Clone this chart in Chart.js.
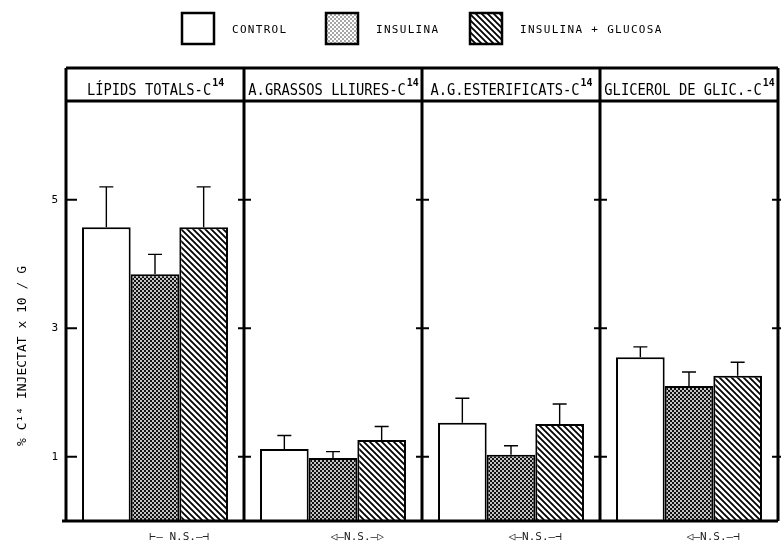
<!DOCTYPE html>
<html>
<head>
<meta charset="utf-8">
<script src="https://cdn.jsdelivr.net/npm/chart.js@4"></script>
<style>
  html, body { margin: 0; padding: 0; background: #fff; }
  #wrap { width: 781px; height: 544px; }
</style>
</head>
<body>
<div id="wrap"><canvas id="lipidsChart" width="781" height="544"></canvas></div>
<script>
// panels (categories) and their header labels
const categories = ['LÍPIDS TOTALS-C', 'A.GRASSOS LLIURES-C', 'A.G.ESTERIFICATS-C', 'GLICEROL DE GLIC.-C'];
const headerSup = '14';
const seriesNames = ['CONTROL', 'INSULINA', 'INSULINA + GLUCOSA'];

// mean values and top of error bar (mean + SE), % C14 injectat x 10 / g
const control     = [4.57, 1.12, 1.53, 2.55];
const controlErr  = [5.20, 1.33, 1.91, 2.71];
const insulina    = [3.84, 0.98, 1.03, 2.10];
const insulinaErr = [4.15, 1.08, 1.17, 2.32];
const insGluc     = [4.57, 1.26, 1.51, 2.26];
const insGlucErr  = [5.20, 1.47, 1.82, 2.47];

const yTicks = [1, 3, 5];
const nsLabels = ['⊢— N.S.—⊣', '◁—N.S.—▷', '◁—N.S.—⊣', '◁—N.S.—⊣'];
const yTitle = '% C¹⁴ INJECTAT x 10 / G';

const errTops = [controlErr, insulinaErr, insGlucErr];

function makeDots(bg, dot) {
    const c = document.createElement('canvas');
    c.width = 4; c.height = 4;
    const g = c.getContext('2d');
    g.fillStyle = bg;
    g.fillRect(0, 0, 4, 4);
    g.fillStyle = dot;
    g.beginPath(); g.arc(1, 1, 1.0, 0, Math.PI * 2); g.fill();
    g.beginPath(); g.arc(3, 3, 1.0, 0, Math.PI * 2); g.fill();
    return g.createPattern(c, 'repeat');
}
function makeHatch() {
    const c = document.createElement('canvas');
    c.width = 6; c.height = 6;
    const g = c.getContext('2d');
    g.fillStyle = '#fff';
    g.fillRect(0, 0, 6, 6);
    g.strokeStyle = '#000';
    g.lineWidth = 1.8;
    g.beginPath();
    g.moveTo(-1, -1); g.lineTo(7, 7);
    g.moveTo(-4, 2); g.lineTo(4, 10);
    g.moveTo(2, -4); g.lineTo(10, 4);
    g.stroke();
    return g.createPattern(c, 'repeat');
}
const dotFill = makeDots('#111', '#fff');
const dotLight = makeDots('#fff', '#888');
const hatchFill = makeHatch();
const legendFills = ['#fff', dotLight, hatchFill];

const extras = {
    id: 'extras',
    afterDatasetsDraw(chart) {
        const ctx = chart.ctx;
        const y = chart.scales.y;
        ctx.save();
        ctx.strokeStyle = '#000';
        ctx.lineWidth = 1.4;
        chart.data.datasets.forEach((ds, d) => {
            chart.getDatasetMeta(d).data.forEach((bar, i) => {
                const top = y.getPixelForValue(errTops[d][i]);
                ctx.beginPath();
                ctx.moveTo(bar.x, bar.y);
                ctx.lineTo(bar.x, top);
                ctx.moveTo(bar.x - 7, top);
                ctx.lineTo(bar.x + 7, top);
                ctx.stroke();
            });
        });
        ctx.restore();
    },
    afterDraw(chart) {
        const ctx = chart.ctx;
        const a = chart.chartArea;
        const x = chart.scales.x;
        const y = chart.scales.y;
        const n = categories.length;
        const w = (a.right - a.left) / n;
        const headBottom = a.top + 33;
        ctx.save();
        ctx.strokeStyle = '#000';
        ctx.lineWidth = 3;
        // frame, header band and panel dividers
        ctx.beginPath();
        ctx.moveTo(a.left, a.top); ctx.lineTo(a.right, a.top);
        ctx.moveTo(a.left, headBottom); ctx.lineTo(a.right, headBottom);
        ctx.moveTo(a.left - 4, a.bottom); ctx.lineTo(a.right, a.bottom);
        for (let i = 0; i <= n; i++) {
            const px = a.left + i * w;
            ctx.moveTo(px, a.top); ctx.lineTo(px, a.bottom);
        }
        ctx.stroke();
        // tick marks on every divider
        ctx.lineWidth = 2;
        ctx.beginPath();
        yTicks.forEach(v => {
            const py = y.getPixelForValue(v);
            ctx.moveTo(a.left, py); ctx.lineTo(a.left + 11, py);
            for (let i = 1; i <= n; i++) {
                const px = a.left + i * w;
                ctx.moveTo(px - 6, py); ctx.lineTo(px + 7, py);
            }
        });
        ctx.stroke();

        // header texts
        ctx.fillStyle = '#000';
        ctx.textBaseline = 'alphabetic';
        categories.forEach((label, i) => {
            ctx.font = '16px "DejaVu Sans Mono"';
            const mainW = ctx.measureText(label).width * 0.86;
            ctx.font = '11px "DejaVu Sans Mono"';
            const supW = ctx.measureText(headerSup).width * 0.9;
            const cx = x.getPixelForValue(i);
            const sx = cx - (mainW + supW) / 2;
            ctx.save();
            ctx.translate(sx, a.top + 27);
            ctx.scale(0.86, 1);
            ctx.font = '16px "DejaVu Sans Mono"';
            ctx.fillText(label, 0, 0);
            ctx.restore();
            ctx.save();
            ctx.translate(sx + mainW + 1, a.top + 18);
            ctx.scale(0.9, 1);
            ctx.font = 'bold 11px "DejaVu Sans Mono"';
            ctx.fillText(headerSup, 0, 0);
            ctx.restore();
        });

        // N.S. marks under each panel
        ctx.font = '11px "DejaVu Sans Mono", "DejaVu Sans"';
        ctx.fillStyle = '#222';
        ctx.textAlign = 'center';
        ctx.textBaseline = 'middle';
        const m1 = chart.getDatasetMeta(1).data;
        const m2 = chart.getDatasetMeta(2).data;
        nsLabels.forEach((t, i) => {
            const cx = (m1[i].x + m2[i].x) / 2;
            ctx.fillText(t, cx, a.bottom + 16);
        });

        // y axis title
        ctx.save();
        ctx.translate(23, 356);
        ctx.rotate(-Math.PI / 2);
        ctx.font = '13px "DejaVu Sans Mono"';
        ctx.fillStyle = '#000';
        ctx.fillText(yTitle, 0, 0);
        ctx.restore();

        // legend
        const legX = [182, 326, 470];
        ctx.font = '11px "DejaVu Sans Mono"';
        ctx.letterSpacing = '1.3px';
        ctx.textAlign = 'left';
        ctx.fillStyle = '#000';
        ctx.lineWidth = 2.5;
        chart.data.datasets.forEach((ds, d) => {
            const lx = legX[d];
            ctx.fillStyle = legendFills[d];
            ctx.fillRect(lx, 13, 32, 31);
            ctx.strokeRect(lx, 13, 32, 31);
            ctx.fillStyle = '#000';
            ctx.fillText(ds.label, lx + 50, 30);
        });
        ctx.restore();
    }
};

new Chart('lipidsChart', {
    type: 'bar',
    data: {
        labels: categories,
        datasets: [
            { label: seriesNames[0], data: control, backgroundColor: '#fff' },
            { label: seriesNames[1], data: insulina, backgroundColor: dotFill },
            { label: seriesNames[2], data: insGluc, backgroundColor: hatchFill }
        ]
    },
    options: {
        responsive: false,
        animation: false,
        devicePixelRatio: 1,
        layout: { padding: { top: 68, bottom: 23, right: 3, left: 0 } },
        datasets: {
            bar: {
                borderColor: '#000',
                borderWidth: 2,
                categoryPercentage: 0.82,
                barPercentage: 1.0
            }
        },
        plugins: {
            legend: { display: false },
            tooltip: { enabled: false }
        },
        scales: {
            x: { display: false },
            y: {
                min: 0,
                max: 7.05,
                afterBuildTicks: s => { s.ticks = yTicks.map(v => ({ value: v })); },
                afterFit: s => { s.width = 66; },
                grid: { display: false, drawTicks: false },
                border: { display: false },
                ticks: {
                    color: '#000',
                    padding: 8,
                    font: { family: 'DejaVu Sans Mono', size: 11 }
                }
            }
        }
    },
    plugins: [extras]
});
</script>
</body>
</html>
